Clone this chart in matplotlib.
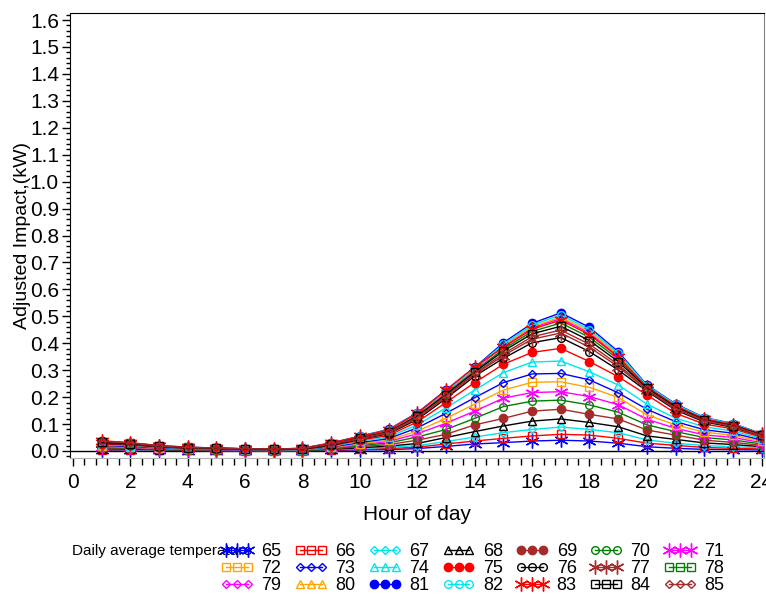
import matplotlib
matplotlib.use('Agg')
import matplotlib.pyplot as plt
from matplotlib.ticker import MultipleLocator, FormatStrFormatter

plt.rcParams['font.family'] = ['Liberation Sans', 'DejaVu Sans']

hours = list(range(1, 25))
temps = list(range(65, 86))

# adjusted impact (kW) by hour, one list per daily average temperature
kw_65 = [.003, .002, .002, .001, .001, .001, .001, .001, .002, .004, .005, .009, .017, .026, .031, .037, .040, .037, .029, .016, .010, .006, .005, .004]
kw_66 = [.004, .004, .003, .002, .002, .001, .001, .001, .003, .006, .009, .014, .026, .037, .047, .056, .062, .059, .047, .029, .021, .013, .010, .008]
kw_67 = [.006, .005, .004, .003, .002, .002, .001, .002, .005, .009, .014, .020, .035, .052, .068, .080, .089, .080, .068, .041, .029, .020, .016, .012]
kw_68 = [.008, .007, .005, .003, .003, .002, .002, .002, .006, .012, .018, .028, .050, .072, .093, .111, .119, .106, .090, .056, .043, .030, .024, .016]
kw_69 = [.010, .009, .006, .004, .003, .002, .002, .003, .008, .016, .024, .040, .062, .097, .121, .148, .155, .136, .119, .078, .059, .040, .032, .021]
kw_70 = [.013, .011, .007, .005, .004, .003, .003, .003, .009, .020, .030, .052, .080, .121, .165, .185, .189, .171, .144, .097, .072, .050, .041, .026]
kw_71 = [.015, .013, .009, .006, .005, .003, .003, .004, .011, .024, .035, .064, .103, .148, .196, .217, .220, .202, .172, .118, .084, .060, .050, .031]
kw_72 = [.018, .015, .010, .007, .006, .004, .003, .004, .013, .027, .040, .074, .121, .174, .226, .255, .257, .236, .199, .134, .097, .070, .058, .036]
kw_73 = [.020, .017, .011, .008, .006, .004, .004, .005, .015, .031, .046, .086, .140, .198, .254, .286, .288, .264, .216, .155, .109, .079, .066, .041]
kw_74 = [.023, .020, .013, .009, .007, .005, .004, .005, .017, .036, .052, .097, .160, .226, .291, .330, .334, .294, .245, .174, .122, .090, .074, .046]
kw_75 = [.026, .022, .015, .010, .008, .006, .005, .006, .019, .040, .058, .108, .180, .254, .322, .366, .381, .332, .276, .208, .140, .100, .082, .051]
kw_76 = [.029, .024, .016, .011, .009, .006, .005, .007, .021, .044, .064, .117, .195, .278, .344, .402, .421, .369, .301, .222, .152, .108, .088, .056]
kw_77 = [.030, .025, .017, .012, .009, .006, .005, .008, .023, .046, .067, .122, .201, .284, .354, .415, .438, .385, .313, .226, .156, .111, .091, .057]
kw_78 = [.033, .028, .018, .013, .010, .007, .006, .009, .026, .050, .073, .132, .213, .297, .378, .444, .475, .422, .341, .236, .166, .117, .096, .061]
kw_79 = [.034, .029, .019, .013, .011, .008, .007, .009, .028, .052, .076, .136, .219, .303, .389, .457, .492, .438, .353, .240, .170, .120, .099, .062]
kw_80 = [.035, .029, .019, .013, .011, .008, .007, .009, .028, .053, .077, .138, .221, .305, .392, .462, .497, .444, .357, .241, .171, .121, .100, .063]
kw_81 = [.036, .030, .020, .014, .011, .008, .007, .010, .030, .055, .080, .142, .226, .310, .402, .474, .513, .459, .369, .245, .175, .124, .102, .064]
kw_82 = [.035, .029, .020, .014, .011, .008, .007, .010, .029, .054, .079, .140, .223, .307, .397, .468, .505, .451, .363, .243, .173, .123, .101, .063]
kw_83 = [.038, .031, .020, .014, .011, .008, .007, .010, .030, .054, .078, .140, .226, .312, .385, .452, .486, .432, .349, .238, .168, .119, .098, .062]
kw_84 = [.032, .027, .018, .012, .010, .007, .006, .008, .025, .049, .071, .129, .209, .293, .371, .435, .463, .410, .332, .233, .163, .115, .094, .060]
kw_85 = [.036, .029, .019, .013, .011, .008, .007, .009, .026, .047, .069, .125, .204, .288, .361, .424, .449, .396, .321, .229, .159, .113, .092, .058]

impact = [kw_65, kw_66, kw_67, kw_68, kw_69, kw_70, kw_71, kw_72, kw_73, kw_74, kw_75,
          kw_76, kw_77, kw_78, kw_79, kw_80, kw_81, kw_82, kw_83, kw_84, kw_85]

colors = ['#0000ff', '#ff0000', '#00e5ee', 'black', '#a52a2a', '#008000', '#ff00ff',
          '#ffa500', '#0000ff', '#00e5ee', '#ff0000', 'black', '#a52a2a', '#008000',
          '#ff00ff', '#ffa500', '#0000ff', '#00e5ee', '#ff0000', 'black', '#a52a2a']
# symbol cycle: star, square, diamond, triangle, dot, circle
symbols = ['star', 'square', 'diamond', 'triangle', 'dot', 'circle']
marker_map = {'star': ((6, 2, 0), 10, False), 'square': ('s', 5.5, False),
              'diamond': ('D', 4.0, False), 'triangle': ('^', 6, False),
              'dot': ('o', 6, True), 'circle': ('o', 5.5, False)}

fig = plt.figure(figsize=(7.66, 5.95), dpi=100)
ax = fig.add_axes([70 / 766, 1 - 458 / 595, 694 / 766, 445 / 595])

handles = []
for i, (t, vals) in enumerate(zip(temps, impact)):
    m, ms, filled = marker_map[symbols[i % 6]]
    c = colors[i]
    ln, = ax.plot(hours, vals, color=c, lw=1.0, marker=m, ms=ms,
                  mfc=c if filled else 'none', mec=c, mew=1.0, label=str(t))
    handles.append(ln)

ax.axhline(0, color='black', lw=1.0, zorder=0)
ax.set_xlim(-0.1, 24.08)
ax.set_ylim(-0.026, 1.626)

ax.xaxis.set_major_locator(MultipleLocator(2))
ax.xaxis.set_minor_locator(MultipleLocator(0.4))
ax.yaxis.set_major_locator(MultipleLocator(0.1))
ax.yaxis.set_minor_locator(MultipleLocator(0.02))
ax.yaxis.set_major_formatter(FormatStrFormatter('%.1f'))
ax.set_yticks([v / 10 for v in range(17)])
ax.tick_params(axis='both', which='major', length=6, width=1, labelsize=15)
ax.tick_params(axis='y', which='major', pad=2)
ax.tick_params(axis='x', which='major', pad=5)
ax.tick_params(axis='both', which='minor', length=3, width=1)
ax.tick_params(axis='x', which='minor', length=5)

for s in ['left', 'top']:
    ax.spines[s].set_color('black')
ax.spines['right'].set_color('#808080')
ax.spines['bottom'].set_color('#b0b0b0')

ax.set_xlabel('Hour of day', fontsize=15)
ax.xaxis.set_label_coords(0.5, -0.105)
ax.set_ylabel('Adjusted Impact,(kW)', fontsize=14, va='center')
ax.yaxis.set_label_coords(-0.069, 0.5)

# legend laid out row by row like the original
order = [r * 7 + c for c in range(7) for r in range(3)]
fig.text(72 / 766, 1 - 551 / 595, 'Daily average temperature', fontsize=11, va='center')
fig.legend([handles[k] for k in order], [str(temps[k]) for k in order],
           ncol=7, loc='upper left', bbox_to_anchor=(221 / 766, 1 - 543 / 595),
           frameon=False, fontsize=13, numpoints=3, handlelength=1.8,
           handletextpad=0.45, columnspacing=0.72, labelspacing=0.0,
           borderpad=0, borderaxespad=0)

fig.savefig('out.png', dpi=100)
